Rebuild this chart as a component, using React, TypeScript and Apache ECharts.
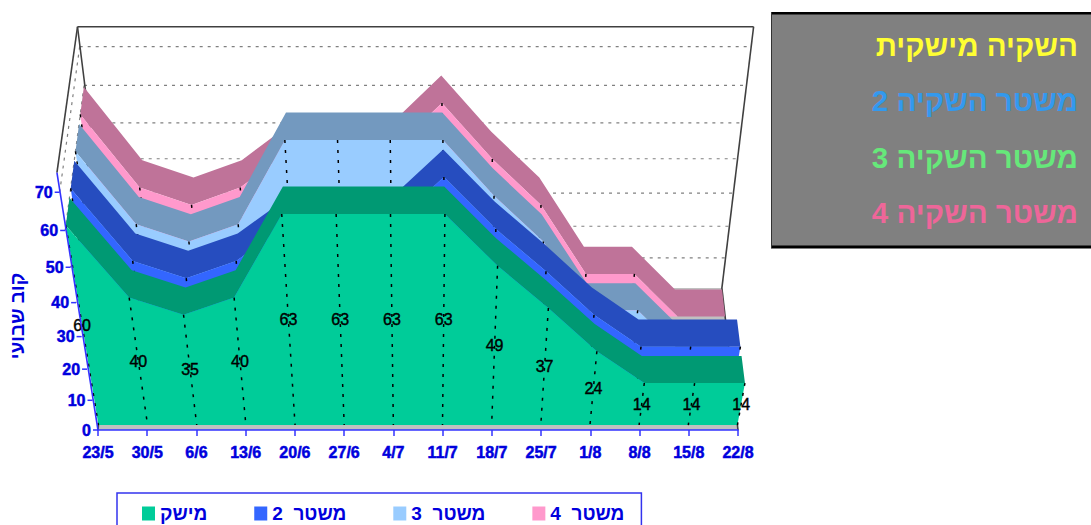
import React, { useEffect, useRef } from "react";
import * as echarts from "echarts";

// Weekly irrigation volume per regime, drawn as a 3D area chart in perspective.
const weeks = ["23/5", "30/5", "6/6", "13/6", "20/6", "27/6", "4/7", "11/7", "18/7", "25/7", "1/8", "8/8", "15/8", "22/8"];
const farmValues = [60, 40, 35, 40, 63, 63, 63, 63, 49, 37, 24, 14, 14, 14];
const regime2Values = [60, 40, 35, 40, 50, 50, 50, 63, 49, 37, 24, 14, 14, 14];
const regime3Values = [60, 40, 35, 40, 63, 63, 63, 63, 48, 35, 14, 14, 0, 0];
const regime4Values = [60, 40, 35, 40, 50, 50, 50, 63, 48, 35, 14, 14, 0, 0];
const valueTicks = [0, 10, 20, 30, 40, 50, 60, 70];
const wallLines = [10, 20, 30, 40, 50, 60, 70];
const panelLines = ["השקיה מישקית", "משטר השקיה 2", "משטר השקיה 3", "משטר השקיה 4"];
const panelColors = ["#FFFF33", "#3399EE", "#66E87A", "#EE6699"];

const AXIS_MAX = 75;
const SANS = '"Liberation Sans", Arial, sans-serif';
const BLUE = "#0000DD";
const AXIS_BLUE = "#3333FF";

// Grid placement of the front floor edge.
const GRID_LEFT = 98;
const GRID_RIGHT_EDGE = 738;
const GRID_BOTTOM_EDGE = 430;
const GRID_H = 257.4;

// Perspective: depth d runs 0 (front) to 1 (back wall).
const FLOOR_RISE = 142;
const DEPTH_CENTER = 372;
const DEPTH_SHRINK = 0.044;
const HEIGHT_CENTER = 420;

function project(api: any, cat: number, v: number, d: number): number[] {
  const base = api.coord([cat, 0]);
  const top = api.coord([cat, v]);
  const t = (base[1] - top[1]) / GRID_H;
  const h = GRID_H * (0.845 * t + 0.155 * t * t) * (1 + 0.015 * d);
  const xd = DEPTH_CENTER + (base[0] - DEPTH_CENTER) * (1 - DEPTH_SHRINK * d);
  const k = 0.0017 - 0.0003 * d;
  const x = HEIGHT_CENTER + (xd - HEIGHT_CENTER) * (1 + k * v);
  return [x, base[1] - FLOOR_RISE * d - h];
}

const dropLine = { stroke: "#000", lineWidth: 1.5, lineDash: [3, 7] };
const wallLine = { stroke: "#808080", lineWidth: 1.2, lineDash: [3, 5] };
const edgeLine = { stroke: "#404040", lineWidth: 1.6 };

function line(a: number[], b: number[], style: any) {
  return { type: "line", shape: { x1: a[0], y1: a[1], x2: b[0], y2: b[1] }, style };
}

// Floor, back wall, left wall and their grid lines.
function renderWalls(_: any, api: any) {
  const last = weeks.length - 1;
  const children: any[] = [];
  children.push({
    type: "polygon",
    shape: { points: [project(api, 0, 0, 0), project(api, last, 0, 0), project(api, last, 0, 1), project(api, 0, 0, 1)] },
    style: { fill: "#C0C0C0" },
  });
  wallLines.forEach((v) => {
    children.push(line(project(api, 0, v, 1), project(api, last, v, 1), wallLine));
    children.push(line(project(api, 0, v, 1), project(api, 0, v, 0), wallLine));
  });
  children.push(line(project(api, 0, AXIS_MAX, 1), project(api, last, AXIS_MAX, 1), edgeLine));
  children.push(line(project(api, 0, AXIS_MAX, 1), project(api, 0, AXIS_MAX, 0), edgeLine));
  children.push(line(project(api, 0, AXIS_MAX, 1), project(api, 0, 0, 1), edgeLine));
  children.push(line(project(api, last, AXIS_MAX, 1), project(api, last, 0, 1), edgeLine));
  children.push(line(project(api, last, 0, 1), project(api, last, 0, 0), edgeLine));
  children.push(line(project(api, 0, 0, 1), project(api, 0, 0, 0), edgeLine));
  return { type: "group", children };
}

// One band of the chart: its top face, its front face and the drop lines on it.
function bandRenderer(values: number[], front: number, back: number, frontFill: string, topFill: string, withLabels: boolean) {
  return (params: any, api: any) => {
    if (params.dataIndex !== 0) return null;
    const frontEdge = values.map((v, i) => project(api, i, v, front));
    const backEdge = values.map((v, i) => project(api, i, v, back));
    const frontBase = values.map((_, i) => project(api, i, 0, front));
    const children: any[] = [
      { type: "polygon", shape: { points: [...frontEdge, ...backEdge.slice().reverse()] }, style: { fill: topFill } },
      { type: "polygon", shape: { points: [...frontEdge, ...frontBase.slice().reverse()] }, style: { fill: frontFill } },
    ];
    values.forEach((v, i) => {
      if (v > 0) children.push(line(frontEdge[i], frontBase[i], dropLine));
    });
    if (withLabels) {
      values.forEach((v, i) => {
        const a = frontEdge[i];
        const b = frontBase[i];
        children.push({
          type: "text",
          style: {
            text: String(v),
            x: (a[0] + b[0]) / 2,
            y: (a[1] + b[1]) / 2,
            align: "center",
            verticalAlign: "middle",
            fill: "#000",
            stroke: "#000",
            lineWidth: 0.4,
            font: `16px ${SANS}`,
          },
        });
      });
    }
    return { type: "group", children };
  };
}

// Slanted value axis along the front left edge.
function renderValueAxis(_: any, api: any) {
  const children: any[] = [line(project(api, 0, 0, 0), project(api, 0, AXIS_MAX, 0), { stroke: AXIS_BLUE, lineWidth: 1.6 })];
  valueTicks.forEach((v) => {
    const p = project(api, 0, v, 0);
    children.push(line([p[0] - 5, p[1]], p, { stroke: AXIS_BLUE, lineWidth: 1.5 }));
    children.push({
      type: "text",
      style: {
        text: String(v),
        x: p[0] - 7,
        y: p[1],
        align: "right",
        verticalAlign: "middle",
        fill: BLUE,
        stroke: BLUE,
        lineWidth: 0.5,
        font: `bold 16px ${SANS}`,
      },
    });
  });
  return { type: "group", children };
}

const bands = [
  { name: "משטר 4", values: regime4Values, front: 0.8, back: 0.99, fill: "#FF99CC", top: "#BF7399" },
  { name: "משטר 3", values: regime3Values, front: 0.545, back: 0.735, fill: "#99CCFF", top: "#7399BF" },
  { name: "משטר 2", values: regime2Values, front: 0.29, back: 0.48, fill: "#3366FF", top: "#264DBF" },
  { name: "מישק", values: farmValues, front: 0.035, back: 0.225, fill: "#00CC99", top: "#009973" },
];

function panelGraphics() {
  const els: any[] = [
    { type: "rect", shape: { x: 771, y: 12, width: 320, height: 236 }, style: { fill: "#808080" } },
    { type: "rect", shape: { x: 771, y: 12, width: 320, height: 2.5 }, style: { fill: "#000" } },
    { type: "rect", shape: { x: 771, y: 245.5, width: 320, height: 3 }, style: { fill: "#000" } },
    { type: "rect", shape: { x: 771, y: 12, width: 1, height: 236 }, style: { fill: "#333" } },
  ];
  const ys = [45, 100, 157, 212];
  panelLines.forEach((text, i) => {
    els.push({
      type: "text",
      style: {
        text,
        x: 1078,
        y: ys[i],
        align: "right",
        verticalAlign: "middle",
        fill: panelColors[i],
        font: `bold 29.5px ${SANS}`,
      },
    });
  });
  els.push({
    type: "text",
    x: 17,
    y: 316,
    rotation: Math.PI / 2,
    style: {
      text: "קוב שבועי",
      x: 0,
      y: 0,
      align: "center",
      verticalAlign: "middle",
      fill: BLUE,
      font: `bold 19px ${SANS}`,
    },
  });
  return els;
}

export default function App() {
  const ref = useRef<HTMLDivElement>(null);
  useEffect(() => {
    document.body.style.margin = "0";
    const chart = echarts.init(ref.current!, null, { renderer: "svg" });
    const indexData = weeks.map((_, i) => [i, 0]);
    chart.setOption({
      animation: false,
      backgroundColor: "#fff",
      grid: {
        left: GRID_LEFT,
        width: GRID_RIGHT_EDGE - GRID_LEFT,
        top: GRID_BOTTOM_EDGE - GRID_H,
        height: GRID_H,
      },
      xAxis: {
        type: "category",
        data: weeks,
        boundaryGap: false,
        z: 5,
        axisLine: { lineStyle: { color: AXIS_BLUE, width: 1.5 } },
        axisTick: { length: 6, lineStyle: { color: AXIS_BLUE, width: 1.5 } },
        axisLabel: {
          interval: 0,
          margin: 14,
          color: BLUE,
          fontWeight: "bold",
          fontSize: 16,
          fontFamily: SANS,
          textBorderColor: BLUE,
          textBorderWidth: 0.5,
          hideOverlap: false,
        },
      },
      yAxis: { type: "value", min: 0, max: AXIS_MAX, show: false },
      legend: {
        left: 117,
        top: 493,
        padding: [11, 17, 12, 25],
        orient: "horizontal",
        icon: "rect",
        itemWidth: 13,
        itemHeight: 14,
        itemGap: 47,
        borderColor: "#3333EE",
        borderWidth: 1.5,
        selectedMode: false,
        data: ["מישק", "משטר 2", "משטר 3", "משטר 4"],
        formatter: (name: string) => name.replace(" ", "  "),
        textStyle: { color: BLUE, fontWeight: "bold", fontSize: 19, fontFamily: SANS },
      },
      graphic: { elements: panelGraphics() },
      series: [
        { type: "custom", coordinateSystem: "cartesian2d", data: [[0, 0]], renderItem: renderWalls, silent: true },
        ...bands.map((b) => ({
          type: "custom",
          name: b.name,
          coordinateSystem: "cartesian2d",
          data: indexData,
          itemStyle: { color: b.fill },
          renderItem: bandRenderer(b.values, b.front, b.back, b.fill, b.top, b.values === farmValues),
          silent: true,
        })),
        { type: "custom", coordinateSystem: "cartesian2d", data: [[0, 0]], renderItem: renderValueAxis, silent: true },
      ],
    });
    return () => chart.dispose();
  }, []);
  return <div ref={ref} style={{ width: 1091, height: 525, overflow: "hidden" }} />;
}
